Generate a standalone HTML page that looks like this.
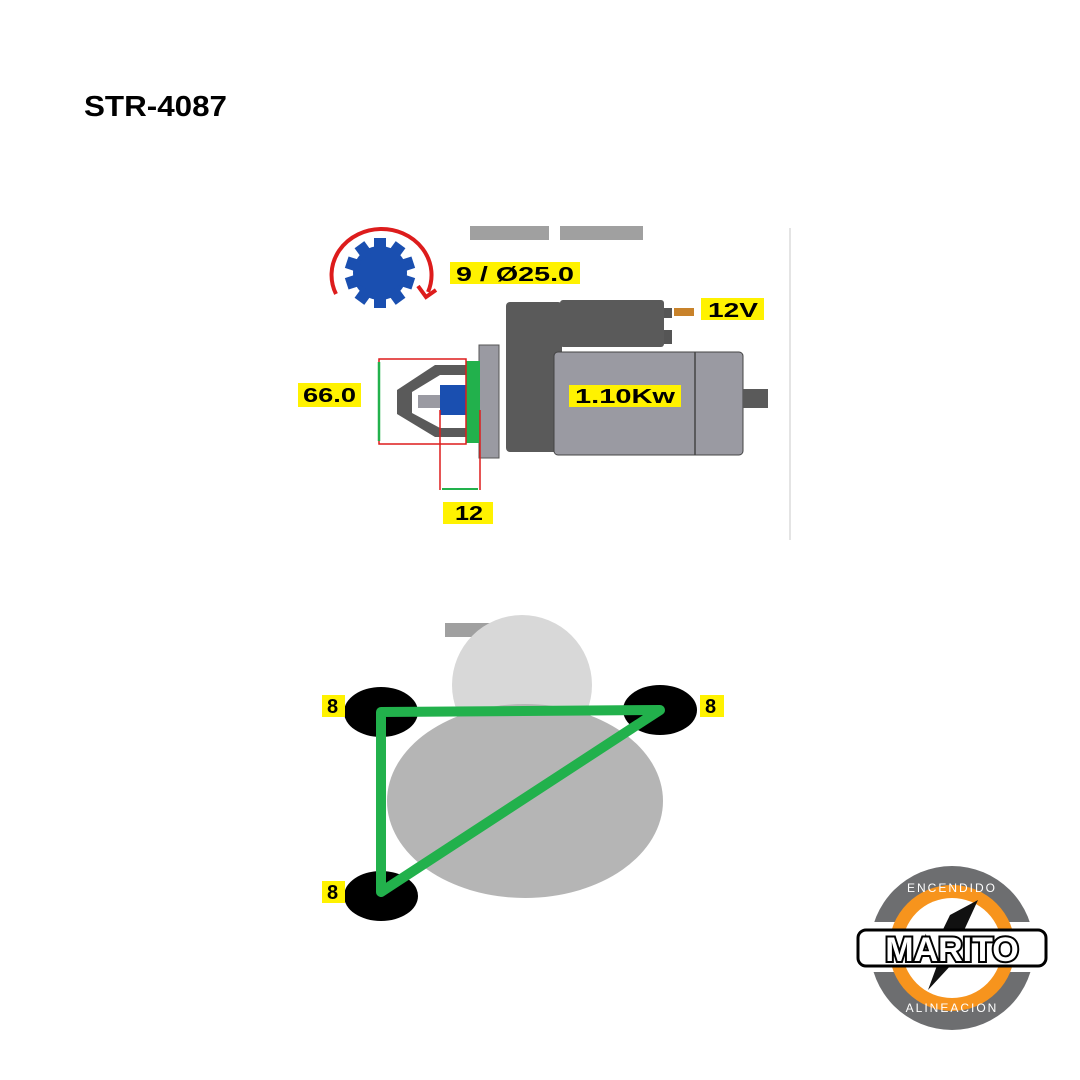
<!DOCTYPE html>
<html><head><style>body{margin:0;background:#fff}svg{display:block}</style></head><body>
<svg width="1080" height="1080" viewBox="0 0 1080 1080" xmlns="http://www.w3.org/2000/svg" font-family="Liberation Sans, sans-serif">
<text x="84" y="116" font-size="29" font-weight="bold" textLength="143" lengthAdjust="spacingAndGlyphs">STR-4087</text>
<!-- top figure -->
<rect x="470" y="226" width="79" height="14" fill="#a0a0a0"/>
<rect x="560" y="226" width="83" height="14" fill="#a0a0a0"/>
<line x1="790" y1="228" x2="790" y2="540" stroke="#e4e4e4" stroke-width="2"/>
<path d="M336,294 A50,46 0 1 1 428,292" fill="none" stroke="#dd1c1c" stroke-width="4"/>
<path d="M418,286 L426,297 L436,290" fill="none" stroke="#dd1c1c" stroke-width="4"/>
<g transform="translate(380,273)" fill="#1a4fb0">
<circle r="27"/>
<g id="t"><rect x="-6" y="-35" width="12" height="14"/></g>
<use href="#t" transform="rotate(36)"/><use href="#t" transform="rotate(72)"/><use href="#t" transform="rotate(108)"/><use href="#t" transform="rotate(144)"/><use href="#t" transform="rotate(180)"/><use href="#t" transform="rotate(216)"/><use href="#t" transform="rotate(252)"/><use href="#t" transform="rotate(288)"/><use href="#t" transform="rotate(324)"/>
</g>
<g font-weight="bold" font-size="20">
<rect x="450" y="262" width="130" height="22" fill="#fff200"/>
<text x="456" y="281" textLength="118" lengthAdjust="spacingAndGlyphs">9 / Ø25.0</text>
<rect x="506" y="302" width="56" height="150" rx="4" fill="#5a5a5a"/>
<rect x="560" y="300" width="104" height="47" rx="3" fill="#5a5a5a"/>
<rect x="664" y="308" width="8" height="10" fill="#555"/>
<rect x="664" y="330" width="8" height="14" fill="#555"/>
<rect x="674" y="308" width="20" height="8" fill="#c8822a"/>
<rect x="701" y="298" width="63" height="22" fill="#fff200"/>
<text x="708" y="317" textLength="50" lengthAdjust="spacingAndGlyphs">12V</text>
<rect x="554" y="352" width="189" height="103" rx="4" fill="#9a9aa2" stroke="#444" stroke-width="1"/>
<line x1="695" y1="352" x2="695" y2="455" stroke="#444" stroke-width="1.5"/>
<rect x="743" y="389" width="25" height="19" fill="#5a5a5a"/>
<rect x="479" y="345" width="20" height="113" fill="#9a9aa2" stroke="#555"/>
<rect x="569" y="385" width="112" height="22" fill="#fff200"/>
<text x="575" y="403" textLength="100" lengthAdjust="spacingAndGlyphs">1.10Kw</text>
<path d="M466,365 L435,365 L397,390 L397,414 L435,437 L466,437 L466,428 L440,428 L412,413 L412,392 L440,375 L466,375 Z" fill="#5a5a5a"/>
<rect x="418" y="395" width="24" height="13" fill="#9a9aa2"/>
<rect x="440" y="385" width="26" height="30" fill="#1a4fb0"/>
<rect x="466" y="361" width="14" height="82" fill="#22b14c"/>
<rect x="379" y="359" width="87" height="85" fill="none" stroke="#dd1c1c" stroke-width="1.5"/>
<line x1="379" y1="362" x2="379" y2="441" stroke="#22b14c" stroke-width="2.5"/>
<line x1="440" y1="410" x2="440" y2="490" stroke="#dd1c1c" stroke-width="1.5"/>
<line x1="480" y1="410" x2="480" y2="490" stroke="#dd1c1c" stroke-width="1.5"/>
<line x1="442" y1="489" x2="478" y2="489" stroke="#22b14c" stroke-width="2"/>
<rect x="298" y="383" width="63" height="24" fill="#fff200"/>
<text x="303" y="402" textLength="53" lengthAdjust="spacingAndGlyphs">66.0</text>
<rect x="443" y="502" width="50" height="22" fill="#fff200"/>
<text x="455" y="520" textLength="28" lengthAdjust="spacingAndGlyphs">12</text>
<!-- bottom figure -->
<rect x="445" y="623" width="90" height="14" fill="#a0a0a0"/>
<circle cx="522" cy="685" r="70" fill="#d8d8d8"/>
<ellipse cx="525" cy="801" rx="138" ry="97" fill="#b5b5b5"/>
<ellipse cx="381" cy="712" rx="37" ry="25" fill="#000"/>
<ellipse cx="660" cy="710" rx="37" ry="25" fill="#000"/>
<ellipse cx="381" cy="896" rx="37" ry="25" fill="#000"/>
<path d="M381,712 L660,710 L381,892 Z" fill="none" stroke="#22b14c" stroke-width="10" stroke-linejoin="round"/>
<rect x="322" y="695" width="23" height="22" fill="#fff200"/><text x="327" y="713">8</text>
<rect x="700" y="695" width="24" height="22" fill="#fff200"/><text x="705" y="713">8</text>
<rect x="322" y="881" width="23" height="22" fill="#fff200"/><text x="327" y="899">8</text>
</g>
<!-- logo -->
<circle cx="952" cy="948" r="82" fill="#6d6e70"/>
<rect x="860" y="922" width="185" height="50" fill="#fff"/>
<circle cx="952" cy="948" r="63" fill="#f7941d"/>
<circle cx="952" cy="948" r="50" fill="#fff"/>
<path d="M950,915 L978,900 L955,950 L965,950 L928,990 L942,952 L932,952 Z" fill="#111"/>
<rect x="858" y="930" width="188" height="36" rx="8" fill="#fff" stroke="#000" stroke-width="3"/>
<text x="952" y="961" font-size="34" font-weight="bold" text-anchor="middle" fill="#fff" stroke="#000" stroke-width="4" paint-order="stroke">MARITO</text>
<text x="952" y="892" font-size="12" fill="#fff" text-anchor="middle" letter-spacing="2">ENCENDIDO</text>
<text x="952" y="1012" font-size="12" fill="#fff" text-anchor="middle" letter-spacing="2">ALINEACION</text>
</svg>
</body></html>
